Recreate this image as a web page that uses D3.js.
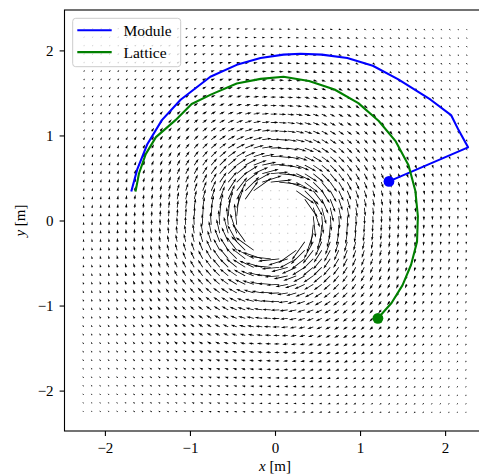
<!DOCTYPE html>
<html>
<head>
<meta charset="utf-8">
<script src="https://cdn.jsdelivr.net/npm/d3@7"></script>
<style>
  html, body { margin: 0; padding: 0; background: #fff; }
  svg { display: block; }
  text { font-family: "Liberation Serif", "DejaVu Serif", serif; }
</style>
</head>
<body>
<svg id="chart" width="479" height="476"></svg>
<script>
// ---- data ----
const xTicks = [-2, -1, 0, 1, 2];
const yTicks = [-2, -1, 0, 1, 2];

// quiver sample grid (both axes)
const gridX = d3.range(46).map(i => -2.25 + i * 0.1);
const gridY = d3.range(46).map(i => -2.25 + i * 0.1);

// tangential speed of the vortex vs distance from the centre (clockwise)
const profileRadius = [0, 0.38, 0.41, 0.6, 0.8, 1.0, 1.4, 2.0, 2.5, 3.3];
const profileSpeed  = [0, 0,    2.3,  1.6, 1.18, 0.9, 0.58, 0.35, 0.25, 0.16];

// trajectories [x, y] in metres
const modulePath = [
  [-1.69, 0.34], [-1.62, 0.60], [-1.50, 0.90], [-1.33, 1.18], [-1.11, 1.42],
  [-0.76, 1.69], [-0.45, 1.83], [-0.17, 1.91], [0.10, 1.95], [0.30, 1.96],
  [0.55, 1.95], [0.85, 1.91], [1.15, 1.82], [1.45, 1.66], [1.83, 1.42],
  [2.07, 1.24], [2.16, 1.06], [2.27, 0.86], [1.34, 0.46]
];
const latticePath = [
  [-1.64, 0.34], [-1.60, 0.55], [-1.52, 0.78], [-1.40, 0.98], [-1.17, 1.18],
  [-0.98, 1.37], [-0.755, 1.48], [-0.45, 1.61], [-0.17, 1.665], [0.10, 1.69],
  [0.40, 1.64], [0.70, 1.54], [0.98, 1.38], [1.22, 1.17], [1.42, 0.93],
  [1.57, 0.65], [1.65, 0.35], [1.68, 0.05], [1.67, -0.25], [1.60, -0.52],
  [1.50, -0.76], [1.37, -0.97], [1.21, -1.15]
];
const series = [
  { name: "Module", color: "#0000ff", points: modulePath },
  { name: "Lattice", color: "#008000", points: latticePath }
];

// ---- layout ----
const svg = d3.select("#chart");
const mLeft = 64.5, mTop = 10, mBottom = 431;
const unit = (mBottom - mTop) / 4.95;
const mRight = mLeft + 4.95 * unit;
const serif = "'Liberation Serif', 'DejaVu Serif', serif";

const x = d3.scaleLinear().domain([-2.475, 2.475]).range([mLeft, mRight]);
const y = d3.scaleLinear().domain([-2.475, 2.475]).range([mBottom, mTop]);
const speed = d3.scaleLinear().domain(profileRadius).range(profileSpeed).clamp(true);
const pxPerSpeed = 10;   // arrow length in px per unit speed

svg.append("defs").append("clipPath").attr("id", "plot")
  .append("rect").attr("x", mLeft).attr("y", mTop)
  .attr("width", mRight - mLeft).attr("height", mBottom - mTop);

// quiver field
const field = [];
gridY.forEach(gy => gridX.forEach(gx => {
  const r = Math.hypot(gx, gy);
  const s = r > 0 ? speed(r) : 0;
  field.push({ x: gx, y: gy, u: r > 0 ? s * gy / r : 0, v: r > 0 ? -s * gx / r : 0 });
}));

// matplotlib-like arrow polygon, lengths in shaft widths
const shaft = 0.8, headLen = 5, headW = 3, headAxis = 4.5;
function arrowPath(d) {
  const x0 = x(d.x), y0 = y(d.y);
  const dx = d.u * pxPerSpeed, dy = -d.v * pxPerSpeed;
  const L = Math.hypot(dx, dy) / shaft;
  if (L < 1) return null;
  let px, py;
  if (L < headLen) {
    const k = L / headLen;
    px = [0, headLen - headAxis, 0, headLen, 0, headLen - headAxis, 0].map(v => v * k);
    py = [0.5, 0.5, headW / 2, 0, -headW / 2, -0.5, -0.5].map(v => v * k);
  } else {
    px = [0, L - headAxis, L - headLen, L, L - headLen, L - headAxis, 0];
    py = [0.5, 0.5, headW / 2, 0, -headW / 2, -0.5, -0.5];
  }
  const c = dx / (L * shaft), sn = dy / (L * shaft);
  return "M" + px.map((p, i) => {
    const X = x0 + shaft * (p * c - py[i] * sn);
    const Y = y0 + shaft * (p * sn + py[i] * c);
    return X.toFixed(2) + "," + Y.toFixed(2);
  }).join("L") + "Z";
}

const plot = svg.append("g").attr("clip-path", "url(#plot)");

plot.append("g").selectAll("path")
  .data(field.filter(d => arrowPath(d)))
  .join("path")
  .attr("d", arrowPath)
  .attr("fill", "#000");

plot.append("g").selectAll("rect")
  .data(field.filter(d => !arrowPath(d)))
  .join("rect")
  .attr("x", d => x(d.x) - 0.5)
  .attr("y", d => y(d.y) - 0.5)
  .attr("width", 1).attr("height", 1)
  .attr("fill", "#000").attr("opacity", 0.3);

// trajectories
const line = d3.line().x(d => x(d[0])).y(d => y(d[1]));
plot.append("g").selectAll("path")
  .data(series)
  .join("path")
  .attr("d", d => line(d.points))
  .attr("fill", "none")
  .attr("stroke", d => d.color)
  .attr("stroke-width", 2.1)
  .attr("stroke-linejoin", "round");

plot.append("g").selectAll("circle")
  .data(series)
  .join("circle")
  .attr("cx", d => x(d.points[d.points.length - 1][0]))
  .attr("cy", d => y(d.points[d.points.length - 1][1]))
  .attr("r", 5.4)
  .attr("fill", d => d.color);

// axes
const fmt = d => d3.format("d")(d);
svg.append("g")
  .attr("transform", `translate(0,${mBottom})`)
  .call(d3.axisBottom(x).tickValues(xTicks).tickFormat(fmt).tickSizeOuter(0).tickSize(4.9).tickPadding(6))
  .call(g => g.select(".domain").remove())
  .call(g => g.selectAll("line").attr("stroke-width", 1.1))
  .call(g => g.selectAll("text").style("font-family", serif).style("font-size", "15px"));

svg.append("g")
  .attr("transform", `translate(${mLeft},0)`)
  .call(d3.axisLeft(y).tickValues(yTicks).tickFormat(fmt).tickSizeOuter(0).tickSize(4.9).tickPadding(6))
  .call(g => g.select(".domain").remove())
  .call(g => g.selectAll("line").attr("stroke-width", 1.1))
  .call(g => g.selectAll("text").style("font-family", serif).style("font-size", "15px"));

// spines
svg.append("rect")
  .attr("x", mLeft).attr("y", mTop)
  .attr("width", mRight - mLeft).attr("height", mBottom - mTop)
  .attr("fill", "none").attr("stroke", "#000").attr("stroke-width", 1.1);

// axis labels
const xl = svg.append("text")
  .attr("x", x(0)).attr("y", 471)
  .attr("text-anchor", "middle").attr("font-size", "15px");
xl.append("tspan").attr("font-style", "italic").text("x");
xl.append("tspan").text(" [m]");

const yl = svg.append("text")
  .attr("transform", `translate(25,${y(0)}) rotate(-90)`)
  .attr("text-anchor", "middle").attr("font-size", "15px");
yl.append("tspan").attr("font-style", "italic").text("y");
yl.append("tspan").text(" [m]");

// legend
const legend = svg.append("g").attr("transform", "translate(72.7,18.3)");
legend.append("rect")
  .attr("width", 108).attr("height", 48.4).attr("rx", 3)
  .attr("fill", "#fff").attr("fill-opacity", 0.8)
  .attr("stroke", "#cccccc").attr("stroke-width", 1);
const item = legend.selectAll("g.item")
  .data(series)
  .join("g")
  .attr("class", "item")
  .attr("transform", (d, i) => `translate(0,${12 + i * 21.8})`);
item.append("line")
  .attr("x1", 4.6).attr("x2", 39)
  .attr("stroke", d => d.color).attr("stroke-width", 2.1);
item.append("text")
  .attr("x", 50.8).attr("dy", "0.35em")
  .attr("font-size", "15.5px")
  .text(d => d.name);
</script>
</body>
</html>
